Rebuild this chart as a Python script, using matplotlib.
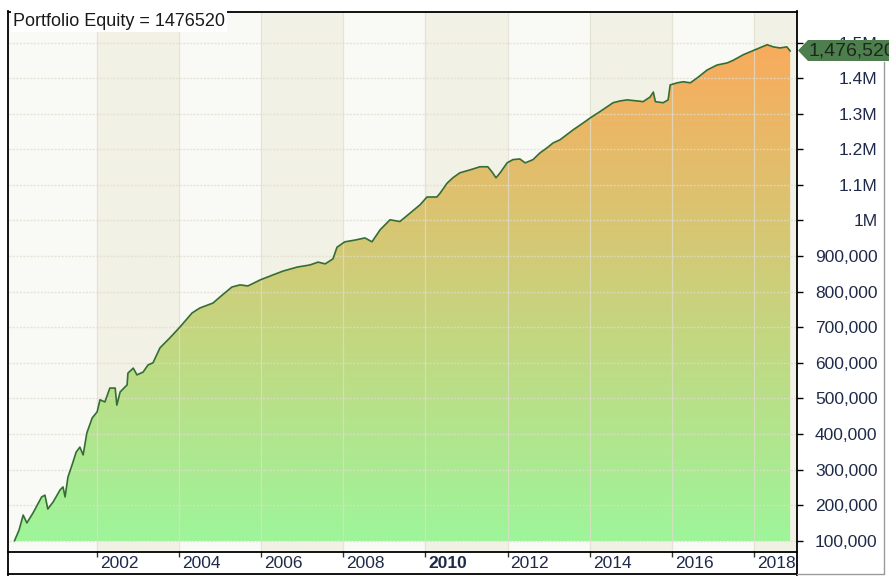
import numpy as np
import matplotlib.pyplot as plt
from matplotlib.colors import LinearSegmentedColormap
from matplotlib.patches import Polygon
from matplotlib.lines import Line2D

plt.rcParams['font.family'] = ['Liberation Sans', 'DejaVu Sans']

# equity curve (decimal year, dollars)
dates = [2000.00, 2000.11, 2000.21, 2000.30, 2000.45, 2000.66, 2000.74, 2000.81, 2000.94, 2001.11,
         2001.18, 2001.23, 2001.30, 2001.40, 2001.50, 2001.59, 2001.67, 2001.76, 2001.89, 2002.01,
         2002.08, 2002.20, 2002.32, 2002.45, 2002.49, 2002.57, 2002.74, 2002.76, 2002.89, 2002.98,
         2003.13, 2003.25, 2003.37, 2003.54, 2003.78, 2004.03, 2004.32, 2004.51, 2004.83, 2005.00,
         2005.29, 2005.49, 2005.68, 2005.98, 2006.29, 2006.54, 2006.88, 2007.19, 2007.39, 2007.56,
         2007.75, 2007.85, 2008.04, 2008.29, 2008.53, 2008.70, 2008.90, 2009.14, 2009.38, 2009.63,
         2009.87, 2010.04, 2010.28, 2010.36, 2010.53, 2010.67, 2010.84, 2011.08, 2011.33, 2011.52,
         2011.62, 2011.72, 2011.82, 2011.99, 2012.13, 2012.30, 2012.43, 2012.62, 2012.79, 2012.96,
         2013.11, 2013.28, 2013.60, 2013.84, 2014.01, 2014.25, 2014.57, 2014.74, 2014.91, 2015.16,
         2015.30, 2015.47, 2015.55, 2015.60, 2015.79, 2015.91, 2015.96, 2016.13, 2016.28, 2016.45,
         2016.62, 2016.86, 2017.10, 2017.35, 2017.49, 2017.74, 2018.03, 2018.32, 2018.47, 2018.63,
         2018.80, 2018.88]
equity = [100000, 130000, 172000, 150000, 178000, 223000, 228000, 189000, 209000, 243000,
          251000, 223000, 279000, 313000, 349000, 363000, 341000, 403000, 445000, 462000,
          496000, 490000, 529000, 529000, 481000, 518000, 538000, 571000, 585000, 566000,
          574000, 594000, 600000, 642000, 670000, 701000, 740000, 754000, 768000, 785000,
          813000, 819000, 816000, 833000, 847000, 858000, 869000, 875000, 883000, 878000,
          892000, 925000, 940000, 945000, 951000, 940000, 974000, 1002000, 997000, 1021000,
          1044000, 1066000, 1066000, 1077000, 1105000, 1120000, 1134000, 1142000, 1151000, 1151000,
          1137000, 1120000, 1134000, 1162000, 1171000, 1173000, 1162000, 1171000, 1190000, 1204000,
          1218000, 1227000, 1255000, 1274000, 1288000, 1306000, 1331000, 1336000, 1339000, 1336000,
          1334000, 1347000, 1361000, 1334000, 1331000, 1339000, 1381000, 1387000, 1390000, 1387000,
          1401000, 1423000, 1437000, 1443000, 1450000, 1466000, 1480000, 1494000, 1488000, 1485000,
          1488000, 1476520]
final_equity = 1476520

y_ticks = [100000, 200000, 300000, 400000, 500000, 600000, 700000, 800000,
           900000, 1000000, 1100000, 1200000, 1300000, 1400000, 1500000]
y_labels = ['100,000', '200,000', '300,000', '400,000', '500,000', '600,000', '700,000',
            '800,000', '900,000', '1M', '1.1M', '1.2M', '1.3M', '1.4M', '1.5M']
x_ticks = [2002, 2004, 2006, 2008, 2010, 2012, 2014, 2016, 2018]
x_labels = ['2002', '2004', '2006', '2008', '2010', '2012', '2014', '2016', '2018']

W, H = 889, 581
fig = plt.figure(figsize=(W / 100, H / 100), dpi=100)

def fx(px):
    return px / W

def fy(py):
    return 1 - py / H

ax = fig.add_axes([fx(9), fy(551), fx(797) - fx(9), fy(12) - fy(551)])
ax.set_facecolor('#f9f9f6')
for s in ax.spines.values():
    s.set_visible(False)

# alternating two-year bands
for start in range(2002, 2020, 4):
    ax.axvspan(start, start + 2, color='#f2f1e5', lw=0, zorder=0)

# gradient area under the curve
base = 99000
poly = ax.fill_between(dates, equity, base, facecolor='none', lw=0)
cmap = LinearSegmentedColormap.from_list('eq', ['#9ef59a', '#f9ab5c'])
grad = np.linspace(0, 1, 256).reshape(-1, 1)
im = ax.imshow(grad, cmap=cmap, origin='lower', aspect='auto',
               extent=[dates[0], dates[-1], base, max(equity)], zorder=1)
im.set_clip_path(poly.get_paths()[0], transform=ax.transData)

ax.plot(dates, equity, color='#356e35', lw=1.2, zorder=3)

# grid
for yt in y_ticks:
    ax.axhline(yt, color='#e0ddcc', lw=1, ls=(0, (1.5, 1)), alpha=0.75, zorder=2)
for xt in x_ticks:
    ax.axvline(xt, color='#e0ddcc', lw=0.9, alpha=0.75, zorder=2)

ax.yaxis.tick_right()
ax.set_yticks(y_ticks, y_labels)
ax.tick_params(axis='y', length=4, width=1, color='k', pad=54,
               labelsize=12.5, labelcolor='#1f2a4a')
for lab in ax.get_yticklabels():
    lab.set_ha('right')

ax.set_xticks(x_ticks)
ax.tick_params(axis='x', length=4, width=1, color='#333333', direction='out', labelbottom=False)
for xt, xl in zip(x_ticks, x_labels):
    ax.annotate(xl, xy=(xt, 0), xycoords=('data', 'axes fraction'),
                xytext=(3, -12), textcoords='offset pixels', ha='left', va='center',
                fontsize=12.5, color='#1f2a4a',
                fontweight='bold' if xl == '2010' else 'normal', annotation_clip=False)

ax.set_xlim(1999.865, 2019.047)
ax.set_ylim(71000, 1586000)

# frame
frame = [((8, 11.5), (797, 11.5)), ((8, 11), (8, 574.5)), ((797, 11), (797, 574.5)),
         ((8, 574), (797, 574)), ((8, 551.5), (797, 551.5))]
for (x0, y0), (x1, y1) in frame:
    fig.add_artist(Line2D([fx(x0), fx(x1)], [fy(y0), fy(y1)], color='k', lw=1.3))
# faint outer border on the right
fig.add_artist(Line2D([fx(883.5), fx(883.5), fx(797)], [fy(62), fy(573.5), fy(573.5)],
                      color='#9a9a9a', lw=1))

# title
fig.text(fx(13), fy(21.5), 'Portfolio Equity = %d' % final_equity, fontsize=13,
         ha='left', va='center', color='#1a1a1a', zorder=6,
         bbox=dict(fc='white', ec='none', pad=1.5))

# last value marker
pts = [(798, 50.5), (808, 40), (895, 40), (895, 61), (808, 61)]
fig.add_artist(Polygon([(fx(a), fy(b)) for a, b in pts], closed=True,
                       facecolor='#4e7d4e', edgecolor='none', zorder=5))
fig.text(fx(808), fy(51), '{:,}'.format(final_equity), fontsize=14, ha='left',
         va='center', color='#1a2a1a', zorder=6)

fig.savefig('out.png', dpi=100)
